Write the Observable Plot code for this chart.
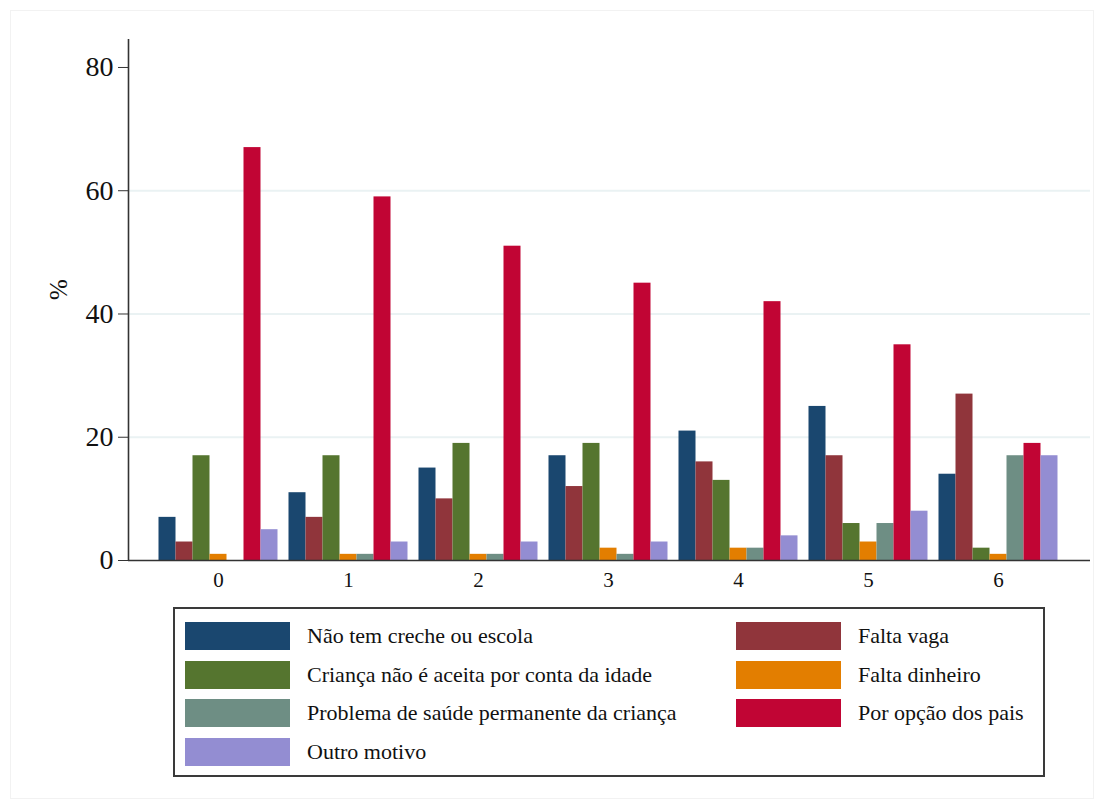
<!DOCTYPE html>
<html><head><meta charset="utf-8">
<script src="https://cdn.jsdelivr.net/npm/d3@7"></script>
<script src="https://cdn.jsdelivr.net/npm/@observablehq/plot@0.6"></script>
<style>
body{margin:0;background:#fff;font-family:"Liberation Serif","Times New Roman",serif;}
#wrap{position:relative;width:1102px;height:807px;overflow:hidden;}
#frame{position:absolute;left:10px;top:10px;width:1084px;height:789px;border:1px solid #f2f2f2;box-sizing:border-box;}
#chart{position:absolute;left:0;top:0;}
#legend{position:absolute;left:173px;top:607px;width:872px;height:170px;border:2px solid #3a3a3a;box-sizing:border-box;background:#fff;}
.item{position:absolute;display:flex;align-items:center;font-size:22px;color:#111;white-space:nowrap;}
.sw{width:105px;height:28px;margin-right:17px;box-sizing:border-box;}
</style></head>
<body>
<div id="wrap"><div id="frame"></div><div id="chart"></div><div id="legend"></div></div>
<script>
const ages = [0, 1, 2, 3, 4, 5, 6];
const categories = [
  "Não tem creche ou escola",
  "Falta vaga",
  "Criança não é aceita por conta da idade",
  "Falta dinheiro",
  "Problema de saúde permanente da criança",
  "Por opção dos pais",
  "Outro motivo"
];
const naoTem          = [7, 11, 15, 17, 21, 25, 14];
const faltaVaga       = [3, 7, 10, 12, 16, 17, 27];
const naoAceitaIdade  = [17, 17, 19, 19, 13, 6, 2];
const faltaDinheiro   = [1, 1, 1, 2, 2, 3, 1];
const problemaSaude   = [0, 1, 1, 1, 2, 6, 17];
const opcaoPais       = [67, 59, 51, 45, 42, 35, 19];
const outroMotivo     = [5, 3, 3, 3, 4, 8, 17];
const yTicks = [0, 20, 40, 60, 80];
const gridTicks = [20, 40, 60];
const yLabel = "%";
const colors = ["#1a476f", "#90353b", "#55752f", "#e37e00", "#6e8e84", "#c10534", "#938dd2"];

const series = [naoTem, faltaVaga, naoAceitaIdade, faltaDinheiro, problemaSaude, opcaoPais, outroMotivo];
const rows = [];
series.forEach((s, i) => ages.forEach((a, j) => rows.push({age: a, cat: categories[i], idx: i, value: s[j]})));

const step = 130;           // px per age group
const bw = 17 / step;       // bar width in age units
const xMin = -90 / step, xMax = 872 / step;

const chart = Plot.plot({
  width: 1102, height: 600,
  marginLeft: 128, marginRight: 12, marginTop: 39, marginBottom: 40,
  style: {fontFamily: "'Liberation Serif','Times New Roman',serif", background: "transparent", color: "#111"},
  x: {domain: [xMin, xMax], axis: null},
  y: {domain: [0, 84.54], axis: null},
  color: {domain: categories, range: colors},
  marks: [
    Plot.ruleY(gridTicks, {stroke: "#eaf2f3", strokeWidth: 2}),
    Plot.rectY(rows, {
      x1: d => d.age + (d.idx - 3.5) * bw,
      x2: d => d.age + (d.idx - 2.5) * bw,
      y1: 0, y2: "value", fill: "cat"
    }),
    Plot.ruleY([0], {stroke: "#333", strokeWidth: 1.6}),
    Plot.ruleX([xMin], {stroke: "#333", strokeWidth: 1.6}),
    Plot.axisY({ticks: yTicks, tickSize: 10, tickPadding: 5, fontSize: 28, stroke: "#333", label: null}),
    Plot.axisX({ticks: ages, tickSize: 0, tickPadding: 12, fontSize: 21, label: null}),
    Plot.text([yLabel], {text: d => d, frameAnchor: "left", rotate: -90, dx: -70, fontSize: 25, fill: "#111"})
  ]
});
document.getElementById("chart").appendChild(chart);

const legend = document.getElementById("legend");
categories.forEach((c, i) => {
  const col = i % 2, row = Math.floor(i / 2);
  const it = document.createElement("div");
  it.className = "item";
  it.style.left = (col === 0 ? 10 : 561) + "px";
  it.style.top = (13 + row * 38.7) + "px";
  const sw = document.createElement("div");
  sw.className = "sw";
  sw.style.background = colors[i];
  const t = document.createElement("span");
  t.textContent = c;
  it.appendChild(sw); it.appendChild(t);
  legend.appendChild(it);
});
</script>
</body></html>
